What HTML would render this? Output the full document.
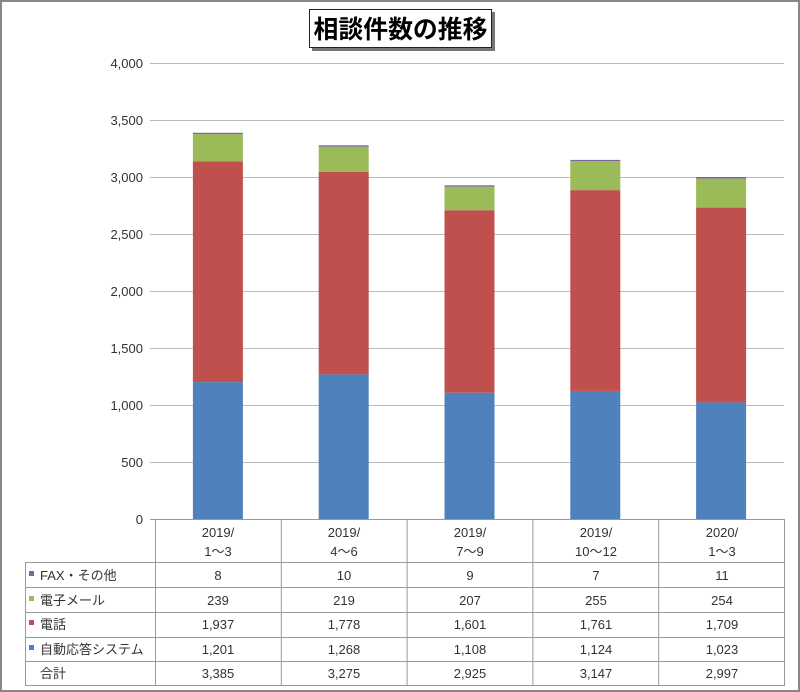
<!DOCTYPE html>
<html><head><meta charset="utf-8"><style>body{margin:0;background:#fff}svg{display:block}text{font-family:"Liberation Sans","Noto Sans CJK JP",sans-serif}</style></head><body>
<svg width="800" height="692" viewBox="0 0 800 692" xmlns="http://www.w3.org/2000/svg">
<rect x="1" y="1" width="798" height="690" fill="#fff" stroke="#888" stroke-width="2"/>
<rect x="312" y="12" width="183" height="39" fill="#777"/>
<rect x="309.5" y="9.5" width="182" height="38" fill="#fff" stroke="#222" stroke-width="1"/>
<text x="400.5" y="38" font-size="25" font-weight="bold" text-anchor="middle" textLength="174" lengthAdjust="spacingAndGlyphs" fill="#000">相談件数の推移</text>
<g stroke="#bbb" stroke-width="1">
<line x1="150" y1="63.5" x2="784" y2="63.5"/><line x1="150" y1="120.5" x2="784" y2="120.5"/><line x1="150" y1="177.5" x2="784" y2="177.5"/><line x1="150" y1="234.5" x2="784" y2="234.5"/><line x1="150" y1="291.5" x2="784" y2="291.5"/><line x1="150" y1="348.5" x2="784" y2="348.5"/><line x1="150" y1="405.5" x2="784" y2="405.5"/><line x1="150" y1="462.5" x2="784" y2="462.5"/>
</g>
<g font-size="13" fill="#333" text-anchor="end">
<text x="143" y="68">4,000</text><text x="143" y="125">3,500</text><text x="143" y="182">3,000</text><text x="143" y="239">2,500</text><text x="143" y="296">2,000</text><text x="143" y="353">1,500</text><text x="143" y="410">1,000</text><text x="143" y="467">500</text><text x="143" y="524">0</text>
</g>
<g>
<rect x="192.9" y="382.1" width="50" height="136.9" fill="#4f81bd"/><rect x="192.9" y="161.3" width="50" height="220.8" fill="#c0504d"/><rect x="192.9" y="134.1" width="50" height="27.2" fill="#9bbb59"/><rect x="192.9" y="132.8" width="50" height="1.3" fill="#8064a2"/>
<rect x="318.7" y="374.4" width="50" height="144.6" fill="#4f81bd"/><rect x="318.7" y="171.7" width="50" height="202.7" fill="#c0504d"/><rect x="318.7" y="146.7" width="50" height="25" fill="#9bbb59"/><rect x="318.7" y="145.3" width="50" height="1.4" fill="#8064a2"/>
<rect x="444.5" y="392.7" width="50" height="126.3" fill="#4f81bd"/><rect x="444.5" y="210.2" width="50" height="182.5" fill="#c0504d"/><rect x="444.5" y="186.6" width="50" height="23.6" fill="#9bbb59"/><rect x="444.5" y="185.3" width="50" height="1.3" fill="#8064a2"/>
<rect x="570.3" y="390.9" width="50" height="128.1" fill="#4f81bd"/><rect x="570.3" y="190.1" width="50" height="200.8" fill="#c0504d"/><rect x="570.3" y="161" width="50" height="29.1" fill="#9bbb59"/><rect x="570.3" y="159.9" width="50" height="1.1" fill="#8064a2"/>
<rect x="696.1" y="402.4" width="50" height="116.6" fill="#4f81bd"/><rect x="696.1" y="207.6" width="50" height="194.8" fill="#c0504d"/><rect x="696.1" y="178.6" width="50" height="29" fill="#9bbb59"/><rect x="696.1" y="177" width="50" height="1.6" fill="#8064a2"/>
</g>
<g stroke="#999" stroke-width="1" fill="none">
<line x1="150" y1="519.5" x2="784" y2="519.5"/>
<line x1="155.5" y1="519" x2="155.5" y2="686"/>
<line x1="281.3" y1="519" x2="281.3" y2="686"/><line x1="407.1" y1="519" x2="407.1" y2="686"/><line x1="532.9" y1="519" x2="532.9" y2="686"/><line x1="658.7" y1="519" x2="658.7" y2="686"/><line x1="784.5" y1="519" x2="784.5" y2="686"/>
<line x1="25.5" y1="562.5" x2="25.5" y2="686"/>
<line x1="25" y1="562.5" x2="785" y2="562.5"/><line x1="25" y1="587.5" x2="785" y2="587.5"/><line x1="25" y1="612.5" x2="785" y2="612.5"/><line x1="25" y1="637.5" x2="785" y2="637.5"/><line x1="25" y1="661.5" x2="785" y2="661.5"/><line x1="25" y1="685.5" x2="785" y2="685.5"/>
</g>
<g font-size="13" fill="#333" text-anchor="middle">
<text x="218" y="537">2019/</text><text x="218" y="556">1～3</text>
<text x="344" y="537">2019/</text><text x="344" y="556">4～6</text>
<text x="470" y="537">2019/</text><text x="470" y="556">7～9</text>
<text x="596" y="537">2019/</text><text x="596" y="556">10～12</text>
<text x="722" y="537">2020/</text><text x="722" y="556">1～3</text>
<text x="218" y="580">8</text><text x="344" y="580">10</text><text x="470" y="580">9</text><text x="596" y="580">7</text><text x="722" y="580">11</text>
<text x="218" y="605">239</text><text x="344" y="605">219</text><text x="470" y="605">207</text><text x="596" y="605">255</text><text x="722" y="605">254</text>
<text x="218" y="629">1,937</text><text x="344" y="629">1,778</text><text x="470" y="629">1,601</text><text x="596" y="629">1,761</text><text x="722" y="629">1,709</text>
<text x="218" y="654">1,201</text><text x="344" y="654">1,268</text><text x="470" y="654">1,108</text><text x="596" y="654">1,124</text><text x="722" y="654">1,023</text>
<text x="218" y="678">3,385</text><text x="344" y="678">3,275</text><text x="470" y="678">2,925</text><text x="596" y="678">3,147</text><text x="722" y="678">2,997</text>
</g>
<rect x="29" y="571" width="5" height="5" fill="#8064a2"/><rect x="29" y="596" width="5" height="5" fill="#9bbb59"/><rect x="29" y="620" width="5" height="5" fill="#c0504d"/><rect x="29" y="645" width="5" height="5" fill="#4f81bd"/>
<g font-size="13" fill="#333">
<text x="40" y="580">FAX・その他</text><text x="40" y="605">電子メール</text><text x="40" y="629">電話</text><text x="40" y="654">自動応答システム</text><text x="40" y="678">合計</text>
</g>
</svg>
</body></html>
